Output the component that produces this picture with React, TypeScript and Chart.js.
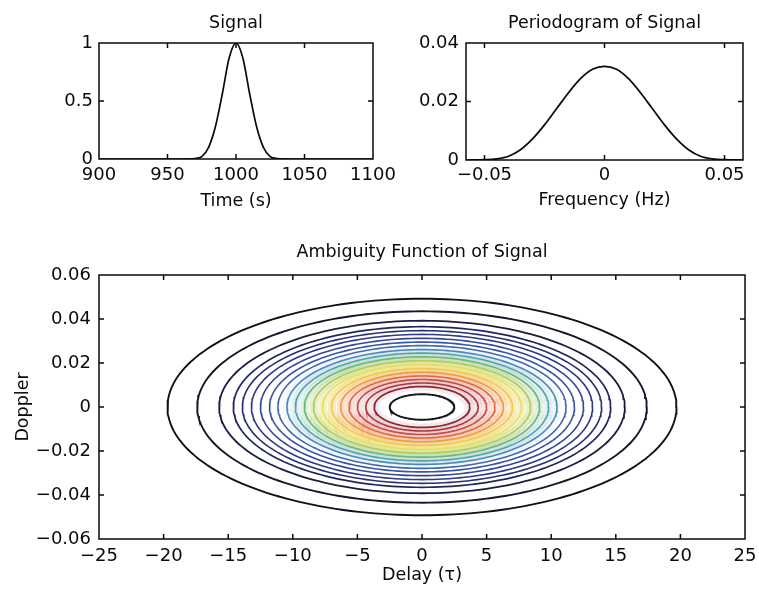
import React, { useEffect, useRef } from 'react';
import { Chart, registerables } from 'chart.js';

Chart.register(...registerables);

const FONT = "'DejaVu Sans', sans-serif";
const TEXT_COLOR = '#0a0a0a';

// ---------- Signal ----------
const SIGNAL_TIME = [900, 960, 970, 975, 980, 985, 990, 995, 1000, 1005, 1010, 1015, 1020, 1025, 1030, 1040, 1100];
const SIGNAL_AMPLITUDE = [0, 0, 0.004, 0.02, 0.1, 0.28, 0.56, 0.87, 1.0, 0.87, 0.56, 0.28, 0.1, 0.02, 0.004, 0, 0];
const SIGNAL_X_TICKS = [900, 950, 1000, 1050, 1100];
const SIGNAL_X_LABELS = ['900', '950', '1000', '1050', '1100'];
const SIGNAL_Y_TICKS = [0, 0.5, 1];
const SIGNAL_Y_LABELS = ['0', '0.5', '1'];

// ---------- Periodogram ----------
const FREQUENCY = [-0.0577, -0.05, -0.045, -0.04, -0.035, -0.03, -0.025, -0.02, -0.015, -0.01, -0.005, 0,
  0.005, 0.01, 0.015, 0.02, 0.025, 0.03, 0.035, 0.04, 0.045, 0.05, 0.0577];
const POWER = [0, 0.0001, 0.0004, 0.0013, 0.0035, 0.0072, 0.012, 0.0175, 0.023, 0.0278, 0.031, 0.032,
  0.031, 0.0278, 0.023, 0.0175, 0.012, 0.0072, 0.0035, 0.0013, 0.0004, 0.0001, 0];
const FREQ_X_TICKS = [-0.05, 0, 0.05];
const FREQ_X_LABELS = ['\u22120.05', '0', '0.05'];
const FREQ_Y_TICKS = [0, 0.02, 0.04];
const FREQ_Y_LABELS = ['0', '0.02', '0.04'];

// ---------- Ambiguity function contours (outer -> inner) ----------
const CONTOUR_DELAY_RADII = [19.7, 17.4, 15.7, 14.6, 13.9, 13.2, 12.5, 11.8, 11.15, 10.45, 9.8, 9.1, 8.4, 7.7, 7.0, 6.3, 5.65, 5.0, 4.35, 3.7, 2.5];
const CONTOUR_DOPPLER_RADII = [0.0492, 0.0435, 0.0392, 0.0365, 0.0347, 0.033, 0.0312, 0.0295, 0.0279, 0.0261, 0.0245, 0.0228, 0.021, 0.0193, 0.0175, 0.0158, 0.0141, 0.0125, 0.0109, 0.0093, 0.0058];
const CONTOUR_COLORS = ['#101018', '#16162a', '#1c1c40', '#22265e', '#283070', '#2e3a84', '#344696', '#3a54a4', '#4468ae', '#4c88bc',
  '#52a2aa', '#6cb67a', '#b0cc5a', '#e6de66', '#f0c850', '#ee9c44', '#e06a3e', '#cc4a44', '#b03640', '#8a2832', '#141414'];
const CONTOUR_HALO_ALPHA = [0, 0, 0, 0, 0, 0, 0, 0, 0, 0.08, 0.16, 0.22, 0.32, 0.4, 0.38, 0.3, 0.2, 0.15, 0.12, 0.1, 0];
const CONTOUR_WIDTHS = [1.9, 1.9, 1.8, 1.7, 1.6, 1.6, 1.6, 1.6, 1.6, 1.6, 1.6, 1.6, 1.6, 1.6, 1.6, 1.6, 1.6, 1.6, 1.6, 1.7, 1.9];
const DELAY_TICKS = [-25, -20, -15, -10, -5, 0, 5, 10, 15, 20, 25];
const DELAY_LABELS = ['\u221225', '\u221220', '\u221215', '\u221210', '\u22125', '0', '5', '10', '15', '20', '25'];
const DOPPLER_TICKS = [-0.06, -0.04, -0.02, 0, 0.02, 0.04, 0.06];
const DOPPLER_LABELS = ['\u22120.06', '\u22120.04', '\u22120.02', '0', '0.02', '0.04', '0.06'];
const ELLIPSE_STEPS = 200;

const W = 759;
const H = 595;

function hexToRgba(hex: string, a: number) {
  const n = parseInt(hex.slice(1), 16);
  return `rgba(${(n >> 16) & 255},${(n >> 8) & 255},${n & 255},${a})`;
}

function ellipsePoints(a: number, b: number) {
  const pts = [];
  for (let k = 0; k <= ELLIPSE_STEPS; k++) {
    const t = (2 * Math.PI * k) / ELLIPSE_STEPS;
    pts.push({ x: a * Math.cos(t), y: b * Math.sin(t) });
  }
  return pts;
}

const framePlugin = {
  id: 'matlabFrame',
  afterDatasetsDraw(chart: any) {
    const { ctx, chartArea: a, scales } = chart;
    ctx.save();
    ctx.strokeStyle = '#0a0a0a';
    ctx.lineWidth = 1.5;
    ctx.strokeRect(a.left, a.top, a.right - a.left, a.bottom - a.top);
    const L = 5;
    ctx.beginPath();
    scales.x.ticks.forEach((t: any) => {
      const px = scales.x.getPixelForValue(t.value);
      if (px <= a.left + 1 || px >= a.right - 1) return;
      ctx.moveTo(px, a.bottom); ctx.lineTo(px, a.bottom - L);
      ctx.moveTo(px, a.top); ctx.lineTo(px, a.top + L);
    });
    scales.y.ticks.forEach((t: any) => {
      const py = scales.y.getPixelForValue(t.value);
      if (py <= a.top + 1 || py >= a.bottom - 1) return;
      ctx.moveTo(a.left, py); ctx.lineTo(a.left + L, py);
      ctx.moveTo(a.right, py); ctx.lineTo(a.right - L, py);
    });
    ctx.stroke();
    ctx.restore();
  },
};

const titlePlugin = {
  id: 'panelTitle',
  afterDraw(chart: any, _args: any, opts: any) {
    const { ctx, chartArea: a } = chart;
    ctx.save();
    ctx.font = `${opts.size}px ${FONT}`;
    ctx.fillStyle = TEXT_COLOR;
    ctx.textAlign = 'center';
    ctx.textBaseline = 'middle';
    ctx.fillText(opts.text, (a.left + a.right) / 2, opts.y);
    ctx.restore();
  },
};

type PanelCfg = {
  datasets: any[];
  xMin: number; xMax: number; yMin: number; yMax: number;
  xTicks: number[]; xLabels: string[]; yTicks: number[]; yLabels: string[];
  padding: { left: number; right: number; top: number; bottom: number };
  yWidth: number; xHeight: number;
  xTickPad: number; yTickPad: number;
  xTitle: string; xTitlePad: number;
  yTitle?: string; yTitlePad?: number;
  title: string; titleY: number;
};

function makeConfig(p: PanelCfg): any {
  const tickFont = { family: FONT, size: 18 };
  const labelFont = { family: FONT, size: 17.5 };
  return {
    type: 'scatter',
    data: { datasets: p.datasets },
    plugins: [framePlugin, titlePlugin],
    options: {
      responsive: false,
      animation: false,
      events: [],
      layout: { padding: p.padding },
      plugins: {
        legend: { display: false },
        tooltip: { enabled: false },
        panelTitle: { text: p.title, y: p.titleY, size: 17.5 },
      },
      scales: {
        x: {
          type: 'linear',
          min: p.xMin,
          max: p.xMax,
          grid: { display: false, drawTicks: false },
          border: { display: false },
          afterBuildTicks: (s: any) => { s.ticks = p.xTicks.map((v) => ({ value: v })); },
          afterFit: (s: any) => { s.height = p.xHeight; s.paddingLeft = 0; s.paddingRight = 0; },
          ticks: {
            autoSkip: false,
            maxRotation: 0,
            padding: p.xTickPad,
            color: TEXT_COLOR,
            font: tickFont,
            callback: (_v: any, i: number) => p.xLabels[i],
          },
          title: { display: true, text: p.xTitle, color: TEXT_COLOR, font: labelFont, padding: { top: 0, bottom: p.xTitlePad } },
        },
        y: {
          type: 'linear',
          min: p.yMin,
          max: p.yMax,
          grid: { display: false, drawTicks: false },
          border: { display: false },
          afterBuildTicks: (s: any) => { s.ticks = p.yTicks.map((v) => ({ value: v })); },
          afterFit: (s: any) => { s.width = p.yWidth; s.paddingTop = 0; s.paddingBottom = 0; },
          ticks: {
            autoSkip: false,
            padding: p.yTickPad,
            color: TEXT_COLOR,
            font: tickFont,
            callback: (_v: any, i: number) => p.yLabels[i],
          },
          title: p.yTitle
            ? { display: true, text: p.yTitle, color: TEXT_COLOR, font: labelFont, padding: { top: p.yTitlePad, bottom: 0 } }
            : { display: false },
        },
      },
    },
  };
}

export default function App() {
  const c1 = useRef<HTMLCanvasElement>(null);
  const c2 = useRef<HTMLCanvasElement>(null);
  const c3 = useRef<HTMLCanvasElement>(null);

  useEffect(() => {
    const signalData = SIGNAL_TIME.map((t, i) => ({ x: t, y: SIGNAL_AMPLITUDE[i] }));
    const powerData = FREQUENCY.map((f, i) => ({ x: f, y: POWER[i] }));

    const lineDs = (data: any[]) => ({
      data,
      showLine: true,
      borderColor: '#0a0a0a',
      borderWidth: 1.7,
      pointRadius: 0,
      cubicInterpolationMode: 'monotone',
    });

    const contourDatasets: any[] = [];
    CONTOUR_DELAY_RADII.forEach((a, i) => {
      const pts = ellipsePoints(a, CONTOUR_DOPPLER_RADII[i]);
      if (CONTOUR_HALO_ALPHA[i] > 0) {
        contourDatasets.push({
          data: pts, showLine: true, pointRadius: 0, order: 2,
          borderColor: hexToRgba(CONTOUR_COLORS[i], CONTOUR_HALO_ALPHA[i]), borderWidth: 8,
        });
      }
      contourDatasets.push({
        data: pts, showLine: true, pointRadius: 0, order: 1,
        borderColor: CONTOUR_COLORS[i], borderWidth: CONTOUR_WIDTHS[i],
      });
    });

    const charts: Chart[] = [];
    charts.push(new Chart(c1.current!, makeConfig({
      datasets: [lineDs(signalData)],
      xMin: 900, xMax: 1100, yMin: 0, yMax: 1,
      xTicks: SIGNAL_X_TICKS, xLabels: SIGNAL_X_LABELS, yTicks: SIGNAL_Y_TICKS, yLabels: SIGNAL_Y_LABELS,
      padding: { left: 0, right: W - 373, top: 43, bottom: H - 215 },
      yWidth: 99, xHeight: 56, xTickPad: 5.5, yTickPad: 6,
      xTitle: 'Time (s)', xTitlePad: 3.5,
      title: 'Signal', titleY: 23,
    })));
    charts.push(new Chart(c2.current!, makeConfig({
      datasets: [lineDs(powerData)],
      xMin: -0.0577, xMax: 0.0577, yMin: 0, yMax: 0.04,
      xTicks: FREQ_X_TICKS, xLabels: FREQ_X_LABELS, yTicks: FREQ_Y_TICKS, yLabels: FREQ_Y_LABELS,
      padding: { left: 380, right: W - 743, top: 43, bottom: H - 215 },
      yWidth: 86, xHeight: 55, xTickPad: 4.5, yTickPad: 7,
      xTitle: 'Frequency (Hz)', xTitlePad: 4.5,
      title: 'Periodogram of Signal', titleY: 23,
    })));
    charts.push(new Chart(c3.current!, makeConfig({
      datasets: contourDatasets,
      xMin: -25, xMax: 25, yMin: -0.06, yMax: 0.06,
      xTicks: DELAY_TICKS, xLabels: DELAY_LABELS, yTicks: DOPPLER_TICKS, yLabels: DOPPLER_LABELS,
      padding: { left: 0, right: W - 745, top: 275, bottom: 0 },
      yWidth: 99, xHeight: H - 539, xTickPad: 7, yTickPad: 8,
      xTitle: 'Delay (\u03c4)', xTitlePad: 9.5,
      yTitle: 'Doppler', yTitlePad: 13,
      title: 'Ambiguity Function of Signal', titleY: 252,
    })));

    return () => charts.forEach((c) => c.destroy());
  }, []);

  const cs: React.CSSProperties = { position: 'absolute', left: 0, top: 0, width: W, height: H };
  return (
    <div style={{ position: 'absolute', left: 0, top: 0, width: W, height: H, background: '#fff', overflow: 'hidden' }}>
      <canvas ref={c1} width={W} height={H} style={cs} />
      <canvas ref={c2} width={W} height={H} style={cs} />
      <canvas ref={c3} width={W} height={H} style={cs} />
    </div>
  );
}
